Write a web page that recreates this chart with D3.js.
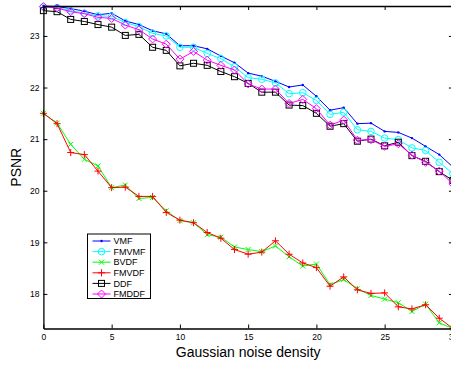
<!DOCTYPE html>
<html>
<head>
<meta charset="utf-8">
<script src="https://cdn.jsdelivr.net/npm/d3@7"></script>
<style>
  body { margin: 0; background: #fff; overflow: hidden; }
  text { font-family: "Liberation Sans", Arial, sans-serif; }
</style>
</head>
<body>
<script>
// noise density 0..30
const density = d3.range(0, 31);

const vmf = [23.58, 23.57, 23.53, 23.48, 23.41, 23.44, 23.29, 23.22, 23.10, 23.04,
  22.81, 22.81, 22.75, 22.61, 22.48, 22.28, 22.22, 22.12, 22.01, 22.05,
  21.83, 21.56, 21.61, 21.30, 21.31, 21.15, 21.13, 21.02, 20.86, 20.70, 20.46];
const fmvmf = [23.56, 23.55, 23.49, 23.44, 23.39, 23.38, 23.26, 23.18, 23.05, 23.00,
  22.78, 22.78, 22.66, 22.56, 22.40, 22.19, 22.16, 22.09, 21.88, 21.90,
  21.75, 21.48, 21.52, 21.18, 21.15, 21.02, 20.99, 20.83, 20.78, 20.55, 20.33];
const bvdf = [21.50, 21.31, 20.90, 20.61, 20.48, 20.06, 20.11, 19.85, 19.87, 19.61,
  19.42, 19.38, 19.15, 19.10, 18.91, 18.86, 18.82, 18.93, 18.72, 18.54,
  18.58, 18.18, 18.28, 18.10, 17.97, 17.90, 17.83, 17.66, 17.80, 17.44, 17.33];
const fmvdf = [21.50, 21.30, 20.74, 20.70, 20.38, 20.06, 20.07, 19.89, 19.89, 19.58,
  19.43, 19.38, 19.19, 19.08, 18.86, 18.77, 18.81, 19.03, 18.77, 18.60,
  18.51, 18.15, 18.33, 18.08, 18.01, 18.02, 17.75, 17.71, 17.79, 17.53, 17.33];
const ddf = [23.49, 23.47, 23.32, 23.28, 23.22, 23.17, 23.01, 23.03, 22.78, 22.72,
  22.42, 22.47, 22.43, 22.31, 22.21, 22.08, 21.91, 21.91, 21.66, 21.65,
  21.50, 21.25, 21.30, 20.96, 21.00, 20.87, 20.94, 20.68, 20.57, 20.37, 20.20];
const fmddf = [23.57, 23.54, 23.47, 23.43, 23.36, 23.34, 23.21, 23.12, 22.94, 22.84,
  22.55, 22.70, 22.53, 22.43, 22.34, 22.07, 21.97, 21.97, 21.69, 21.77,
  21.59, 21.27, 21.37, 20.98, 20.99, 20.86, 20.91, 20.69, 20.55, 20.38, 20.13];

const names = ["VMF", "FMVMF", "BVDF", "FMVDF", "DDF", "FMDDF"];
const colors = ["#0000ff", "#00ffff", "#00ff00", "#ff0000", "#000000", "#ff00ff"];
const markers = ["dot", "circle", "x", "plus", "square", "diamond"];
const series = [vmf, fmvmf, bvdf, fmvdf, ddf, fmddf];

const xTicks = [0, 5, 10, 15, 20, 25, 30];
const yTicks = [18, 19, 20, 21, 22, 23];

const width = 451, height = 367;
const plotL = 43.4, plotR = 452.9, plotT = 6, plotB = 328.5;

const svg = d3.select("body").append("svg")
  .attr("width", width)
  .attr("height", height);

const x = d3.scaleLinear().domain([0, 30]).range([plotL, plotR]);
const y = d3.scaleLinear().domain(d3.extent(series.flat())).range([plotB, plotT]);

// markers
function drawMarker(g, type, color) {
  if (type === "dot") {
    g.append("circle").attr("r", 1.2).attr("fill", color);
  } else if (type === "circle") {
    g.append("circle").attr("r", 3.3).attr("fill", "none").attr("stroke", color);
  } else if (type === "x") {
    g.append("path").attr("d", "M-2.5,-2.5L2.5,2.5M-2.5,2.5L2.5,-2.5").attr("stroke", color);
  } else if (type === "plus") {
    g.append("path").attr("d", "M-3.5,0L3.5,0M0,-3.5L0,3.5").attr("stroke", color);
  } else if (type === "square") {
    g.append("rect").attr("x", -3).attr("y", -3).attr("width", 6).attr("height", 6)
      .attr("fill", "none").attr("stroke", color);
  } else if (type === "diamond") {
    g.append("path").attr("d", "M0,-4L4,0L0,4L-4,0Z").attr("fill", "none").attr("stroke", color);
  }
}

const line = d3.line().x((d, i) => x(density[i])).y(d => y(d));

series.forEach((s, k) => {
  const g = svg.append("g");
  g.append("path")
    .datum(s)
    .attr("d", line)
    .attr("fill", "none")
    .attr("stroke", colors[k])
    .attr("stroke-width", 1);
  g.selectAll("g.m")
    .data(s)
    .enter()
    .append("g")
    .attr("class", "m")
    .attr("transform", (d, i) => `translate(${x(density[i])},${y(d)})`)
    .each(function() { drawMarker(d3.select(this), markers[k], colors[k]); });
});

// axes (ticks inward, box on)
const fmt = d3.format("d");
svg.append("g")
  .attr("transform", `translate(0,${plotB})`)
  .call(d3.axisBottom(x).tickValues(xTicks).tickFormat(fmt).tickSize(-4).tickSizeOuter(0).tickPadding(5));
svg.append("g")
  .attr("transform", `translate(0,${plotT})`)
  .call(d3.axisBottom(x).tickValues(xTicks).tickFormat("").tickSize(4).tickSizeOuter(0));
svg.append("g")
  .attr("transform", `translate(${plotL},0)`)
  .call(d3.axisLeft(y).tickValues(yTicks).tickFormat(fmt).tickSize(-4).tickSizeOuter(0).tickPadding(4));
svg.append("g")
  .attr("transform", `translate(${plotR},0)`)
  .call(d3.axisLeft(y).tickValues(yTicks).tickFormat("").tickSize(4).tickSizeOuter(0));

svg.selectAll(".domain").attr("stroke", "#000").attr("stroke-width", 1.3);
svg.selectAll(".tick line").attr("stroke", "#000");
svg.selectAll(".tick text")
  .attr("fill", "#000")
  .style("font-size", "8.5px")
  .style("font-family", "'Liberation Sans', Arial, sans-serif");

// axis titles
svg.append("text")
  .attr("x", (plotL + plotR) / 2)
  .attr("y", 357)
  .attr("text-anchor", "middle")
  .style("font-size", "14px")
  .text("Gaussian noise density");
svg.append("text")
  .attr("transform", `translate(21,${(plotT + plotB) / 2}) rotate(-90)`)
  .attr("text-anchor", "middle")
  .style("font-size", "14px")
  .text("PSNR");

// legend
const lx = 87.5, ly = 234, lw = 63, lh = 64.5, rowH = 10.6;
const legend = svg.append("g");
legend.append("rect")
  .attr("x", lx).attr("y", ly).attr("width", lw).attr("height", lh)
  .attr("fill", "#fff").attr("stroke", "#000").attr("stroke-width", 1);
names.forEach((n, k) => {
  const cy = ly + 7 + k * rowH;
  legend.append("line")
    .attr("x1", lx + 5).attr("x2", lx + 23)
    .attr("y1", cy).attr("y2", cy)
    .attr("stroke", colors[k]);
  const mg = legend.append("g").attr("transform", `translate(${lx + 14},${cy})`);
  drawMarker(mg, markers[k], colors[k]);
  legend.append("text")
    .attr("x", lx + 26).attr("y", cy + 3.2)
    .style("font-size", "9px")
    .text(n);
});
</script>
</body>
</html>
